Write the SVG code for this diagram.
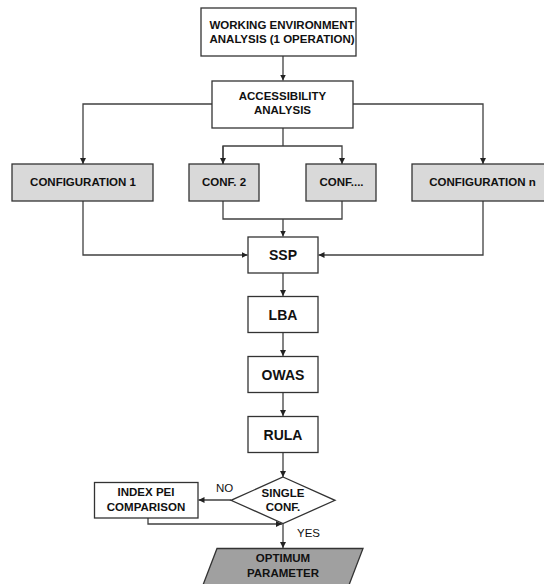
<svg xmlns="http://www.w3.org/2000/svg" width="544" height="584" viewBox="0 0 544 584">
<defs>
<style>
.box{fill:#ffffff;stroke:#333333;stroke-width:1.3}
.gray{fill:#d9d9d9;stroke:#333333;stroke-width:1.3}
.dark{fill:#a0a0a0;stroke:#333333;stroke-width:1.3}
.t{font-family:"Liberation Sans",Arial,sans-serif;font-weight:bold;font-size:11.5px;fill:#111111;text-anchor:middle}
.tb{font-family:"Liberation Sans",Arial,sans-serif;font-weight:bold;font-size:14px;fill:#111111;text-anchor:middle}
.lbl{font-family:"Liberation Sans",Arial,sans-serif;font-size:11.5px;fill:#111111}
.c{fill:none;stroke:#404040;stroke-width:1.3}
</style>
<marker id="ah" viewBox="0 0 10 10" refX="10" refY="5" markerWidth="6" markerHeight="6" markerUnits="userSpaceOnUse" orient="auto">
<path d="M0,0 L10,5 L0,10 Z" fill="#222222"/>
</marker>
</defs>
<rect width="544" height="584" fill="#ffffff"/>
<g id="connectors">
<path class="c" d="M283,56 V80.5" marker-end="url(#ah)"/>
<path class="c" d="M212,104 H83 V164" marker-end="url(#ah)"/>
<path class="c" d="M353,104 H483 V164" marker-end="url(#ah)"/>
<path class="c" d="M283,128 V146"/>
<path class="c" d="M223,164 V146 H342 V164" marker-end="url(#ah)"/>
<path class="c" d="M223,146 V164" marker-end="url(#ah)"/>
<path class="c" d="M223,201 V219 H342 V201"/>
<path class="c" d="M283,219 V236.5" marker-end="url(#ah)"/>
<path class="c" d="M83,201 V255 H247.5" marker-end="url(#ah)"/>
<path class="c" d="M483,201 V255 H318.5" marker-end="url(#ah)"/>
<path class="c" d="M283,273 V296" marker-end="url(#ah)"/>
<path class="c" d="M283,333 V356" marker-end="url(#ah)"/>
<path class="c" d="M283,392 V416" marker-end="url(#ah)"/>
<path class="c" d="M283,453 V477" marker-end="url(#ah)"/>
<path class="c" d="M231,500 H198.5" marker-end="url(#ah)"/>
<path class="c" d="M148,518 V524 H282" marker-end="url(#ah)"/>
<path class="c" d="M283,523 V548" marker-end="url(#ah)"/>
<text class="lbl" x="216" y="491.5">NO</text>
<text class="lbl" x="297" y="536.5">YES</text>
</g>
<g id="n_working">
<rect class="box" x="201" y="8" width="155" height="48"/>
<text class="t" x="282" y="29">WORKING ENVIRONMENT</text>
<text class="t" x="282" y="43.3">ANALYSIS (1 OPERATION)</text>
</g>
<g id="n_access">
<rect class="box" x="212" y="81" width="141" height="47"/>
<text class="t" x="282.5" y="100">ACCESSIBILITY</text>
<text class="t" x="282.5" y="114.3">ANALYSIS</text>
</g>
<g id="n_conf1">
<rect class="gray" x="12" y="164" width="141" height="37"/>
<text class="t" x="83" y="185.5">CONFIGURATION 1</text>
</g>
<g id="n_conf2">
<rect class="gray" x="189" y="164" width="70" height="37"/>
<text class="t" x="224" y="185.5">CONF. 2</text>
</g>
<g id="n_confdots">
<rect class="gray" x="306" y="164" width="70" height="37"/>
<text class="t" x="341.5" y="185.5">CONF....</text>
</g>
<g id="n_confn">
<rect class="gray" x="412" y="164" width="141" height="37"/>
<text class="t" x="482.5" y="185.5">CONFIGURATION n</text>
</g>
<g id="n_ssp">
<rect class="box" x="248" y="237" width="70" height="36"/>
<text class="tb" x="283" y="259.5">SSP</text>
</g>
<g id="n_lba">
<rect class="box" x="248" y="296.5" width="70" height="36"/>
<text class="tb" x="283" y="319.5">LBA</text>
</g>
<g id="n_owas">
<rect class="box" x="248" y="356.5" width="70" height="36"/>
<text class="tb" x="283" y="379.5">OWAS</text>
</g>
<g id="n_rula">
<rect class="box" x="248" y="416.5" width="70" height="36"/>
<text class="tb" x="283" y="439.5">RULA</text>
</g>
<g id="n_single">
<polygon class="box" points="283,477 335,500.3 283,523.5 231,500.3"/>
<text class="t" x="283" y="496.7">SINGLE</text>
<text class="t" x="283" y="511.3">CONF.</text>
</g>
<g id="n_index">
<rect class="box" x="94.5" y="482.5" width="103.5" height="35.5"/>
<text class="t" x="146" y="495.5">INDEX PEI</text>
<text class="t" x="146" y="510.7">COMPARISON</text>
</g>
<g id="n_optimum">
<polygon class="dark" points="217,548.5 363,548.5 349,585 203,585"/>
<text class="t" x="283" y="562">OPTIMUM</text>
<text class="t" x="283" y="577">PARAMETER</text>
</g>
</svg>
